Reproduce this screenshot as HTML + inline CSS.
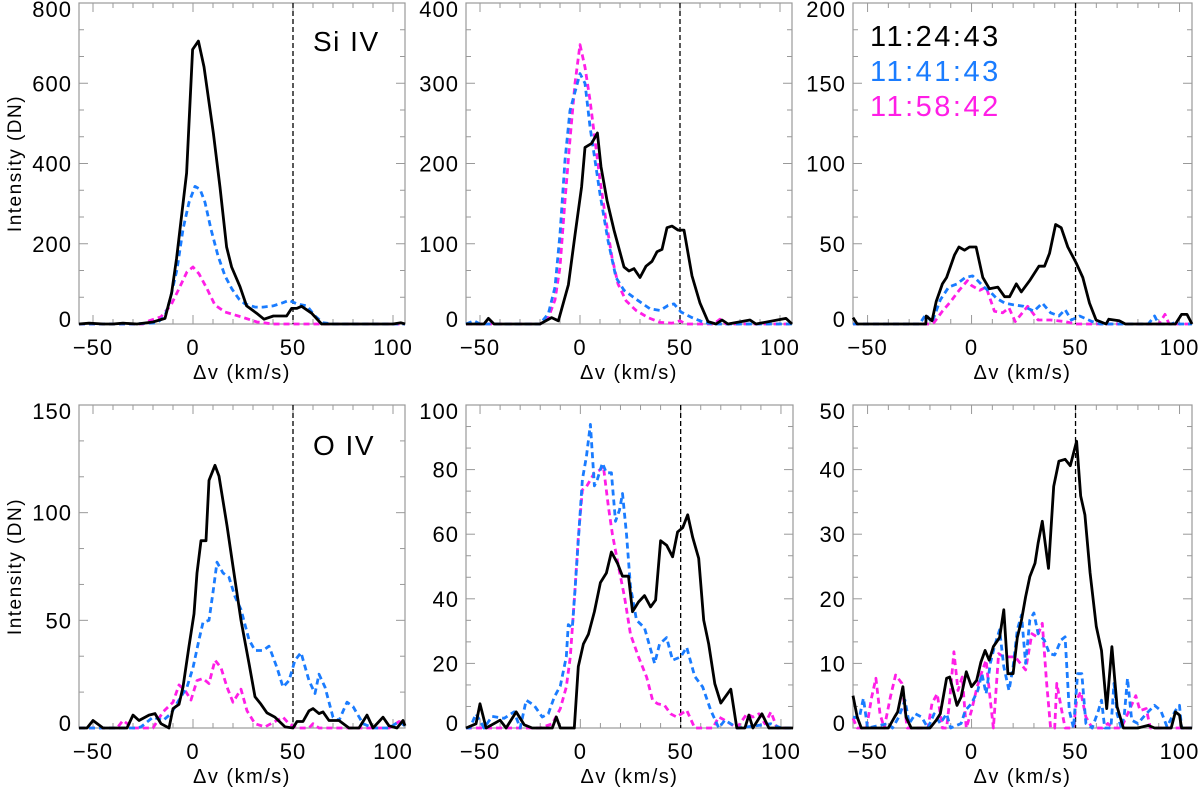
<!DOCTYPE html>
<html><head><meta charset="utf-8"><style>
html,body{margin:0;padding:0;background:#fff;}
svg{display:block;font-family:"Liberation Sans",sans-serif;}
</style></head><body>
<svg id="chart" width="1200" height="788" viewBox="0 0 1200 788" xmlns="http://www.w3.org/2000/svg"></svg>
<script>
// ---- data (velocity km/s, intensity DN) ----
const seriesNames = ["11:24:43","11:41:43","11:58:42"];
// Panel 1 Si IV (top-left)
const p1BlackV=[-57,-52,-45,-40,-35,-28,-20,-16.7,-14,-12.3,-10.7,-8.2,-3.2,-0.2,2.7,5.5,10.2,13.5,16.8,19.3,23.5,26.8,31.8,35.5,40.2,46.8,49.3,51.8,54.3,59.3,64.3,80,100,104,106];
const p1BlackI=[0,2,0,0,2,0,5,10,14,47,77,164,376,684,705,641,475,341,192,142,93,45,27,12,20,20,39,39,44,27,0,0,0,3,0];
const p1BlueV=[-57,-30,-18,-14,-11.5,-8,-5,-2,1,3.5,6,9,12.5,16,19.5,23,26,31,35,40,45,48,52,57,61,65,70,106];
const p1BlueI=[0,0,3,20,60,136,236,303,343,336,303,236,170,120,87,62,50,42,42,45,53,59,50,45,20,3,0,0];
const p1MagV=[-57,-25,-22,-16,-11,-7,-3,0,3,7,11,16,24,32,40,106];
const p1MagI=[0,0,8,18,47,88,130,142,125,88,47,30,18,5,0,0];
// Panel 2 (top-middle)
const p2BlackV=[-57,-48,-45.8,-43,-20,-14.2,-10.8,-5.8,-2.5,0.8,2.5,5.8,8.7,10.5,13.5,17,22,24.5,27,30,33,36,38.5,41,43.5,46,49,52,56,60,64,68,71,74,85,88,103,106];
const p2BlackI=[0,0,7,0,0,8,4,49,111,171,220,225,238,196,154,117,71,66,69,58,72,78,90,93,120,122,117,117,60,26,3,0,5,0,5,0,7,0];
const p2BlueV=[-57,-53,-50,-20,-15.8,-12.5,-10,-7.5,-5,0,2.5,5,7.5,10,14,18,22,28,35,40,44,47,50.5,56,62,66,106];
const p2BlueI=[0,4,0,0,13,46,112,204,266,312,300,246,204,162,104,58,42,31,19,17,23,25,15,8,2,0,0];
const p2MagV=[-57,-20,-16,-12.5,-10,-7.5,-5,-2.5,0,2.5,5,7.5,10,13,16,19,23,28,34,40,46,50,53,67,70,73,106];
const p2MagI=[0,0,7,30,71,154,230,300,348,320,279,229,179,129,83,50,29,17,8,2,1,4,0,0,6,0,0];
// Panel 3 (top-right)
const p3BlackV=[-57,-55,-22,-21.8,-19,-17,-14,-12,-8.2,-6.1,-3.4,-1,2.2,5.4,8.6,12.6,15.9,18.3,21.5,23.9,27.9,32.4,35.1,37.5,40.4,43.1,46.3,50.3,53.5,56.7,59.9,64.7,66,71,74,98,101,103.6,106];
const p3BlackI=[4,0,0,5,2,14,25,29,43,48,46,48,48,29,22,23,17,17,25,20,27,36,36,44,62,60,48,38,29,13,2.5,0,3,2,0,0,6,6,0];
const p3BlueV=[-57,-25,-22,-19,-15,-11,-7,-3,0.5,3,6,9,12,16,20,25,30,34,38,42,45,48,52,58,62,85,88,90,96,98,100,106];
const p3BlueI=[0,0,6,1,15,23,25,29,30,27,23,20,16,13,12,11,8,13,7,5,9,2.5,5,1.5,0,0,5,0,0,1,0,0];
const p3MagV=[-57,-20,-18,-14,-10,-6,-2,0,4,7,11,15,18,21,27,32,38,45,50,90,93,95,106];
const p3MagI=[0,0,1,8,14,21,27,24,21,23,8,7,10,1.5,11,2.5,2.5,1.5,0,0,6,0,0];
// Panel 4 O IV (bottom-left)
const p4BlackV=[-57,-53,-50,-45,-33,-30,-27,-22,-19,-16,-12,-10,-7,-5,-2,0.5,2,4,6.5,8,11,13,17,20,24,28,31,34,37,41,46,50,52,55,58,60,63,65,68,73,78,83,87,90,95,98,102,105,106];
const p4BlackI=[0,0,3.5,0,0,6,3.5,6,6.7,2,0,9,11,19,38,53,72,87,87,115,122,117,94,75,50,30,14.5,11,7,5,0.5,0,3,3,8,9,6.7,7.5,3.5,3.5,0,0,6,0,5,1,0,3.5,1];
const p4BlueV=[-57,-28,-26,-20,-15,-11,-7,-3,0,3,5,8,10,12,15,18,21,24,28,31,35,38,42,45,48,51,54,58,61,63,66,70,73,77,80,85,90,98,103,106];
const p4BlueI=[0,0,0.5,5,3.5,6.7,13,19,28,41,49,50,63,77,72,70,61,55,41,36,36,38,28,19,22,31.5,35,22,16,25,19,5,3.5,12,10,2,0,0,3,1];
const p4MagV=[-57,-38,-35,-30,-20,-15,-10,-7,-4,-1,2,5,8,11,14,17,20,24,27,31,36,41,45,48,52,58,60,63,98,100,103,106];
const p4MagI=[0,0,3.5,0,0,7.5,12,20,17.5,13,22,23,20.6,31.5,28,19,12,18,8,2,0.5,3,5,2,0,0,2,0,0,1,3,2];
// Panel 5 (bottom-middle)
const p5BlackV=[-57,-52,-50,-47,-40,-37,-32,-28,-24,-14,-12,-10,-3,-1,1.5,4,7,10,13,15.5,18.5,21,24,26,29,32,35,37.5,40,43,46,48.5,51,53.5,56,59,61.5,64,67,70,75,78,82,84,86,90.5,94,106];
const p5BlackI=[0,1.3,7.5,0,2.4,0,5,1,0,0,3.4,0,0,19,26,29,36,45,48,54.5,51,47,47,36,39,41,37.5,39.6,58,56.6,53,60.7,62,66,59,52.5,33.4,26,13.7,7.7,12,0,0,4,0,4.4,0,0];
const p5BlueV=[-57,-55,-52,-48,-44,-38,-33,-30,-27,-23,-19,-16,-13,-10,-7,-6,-4,-2.5,-1,1,3,5,7,8.5,11,13,15.5,17.5,19.5,21,23,25,28,32,37,39.5,43,46,50,53,57,61,65,69,72,75,78.5,95,100,106];
const p5BlueI=[0,0,4.4,0,3.6,3,5,0,8.6,7,3.4,4.4,9.6,13,22,32,31,44,58,77,84,94,75,77,82,79,79,64,67.5,72.6,60,43.7,33.4,31,20,26,28,21,22,25,16,12.7,5.5,0,2.4,1.3,0,1.3,0,0];
const p5MagV=[-57,-20,-14,-10,-7,-5,-3,-1,1,3,5,7,9.5,11.5,14,16,19,22,25,29,33,36,38.5,42,45,48,53,57,66,69,72,78,83,86,89,92,95,98,106];
const p5MagI=[0,0,1.3,6,12.7,22,39.6,59,73.7,74.7,76.8,79,79.8,81,68.5,60,50,40.6,29,22,15.8,8.6,7.5,7,4.4,3.4,5.5,0,0,3.4,2.4,0,4.4,3.4,4.4,1.3,5,0,0];
// Panel 6 (bottom-right)
const p6BlackV=[-57,-55,-53,-40,-37,-35.5,-33,-31.5,-29,-20,-17,-15,-12,-10.5,-7,-5,-2.5,0,2.5,4.5,6.5,8.5,10.5,13.5,15.5,17.5,20,22,24,26,28,30.5,32,34,37,39.5,42,45,47.5,50.5,52.5,54.5,57,60,62.5,65,67.5,70,73,80,85,88,96,98,100,101,106];
const p6BlackI=[5,1.7,0,0,1.7,2.5,6.4,1.7,0,0,1.2,2.2,7.7,7.9,3.5,4.8,8.7,6.4,7.4,10.2,12,10.5,12.6,14,18.3,8.4,8.4,14,16.7,20.3,23.4,25.5,28.6,32,24.7,37.4,41.3,41.6,40.6,44.4,35.9,33,24,15.7,12,3,12.6,3.3,0,0,0.4,0,0,2.5,2,0,0];
const p6BlueV=[-57,-54,-52,-50,-40,-38,-35,-32,-30,-27,-24,-21,-18,-15,-12,-10,-5,-3,0,3,5,7,9,11,13.5,15.5,18,20,22,24,26,28,30,32,35,37.5,40,43,45,47,49,51,53,55,58,61,62.5,64,67,68.5,70,72,73.5,75,77,80,84,88,91,94,98,100,101,106];
const p6BlueI=[1.7,1.5,4.6,0,0.7,0,1.7,4.3,0.7,2.2,1.7,0,2.2,0.7,2.2,0,0.7,2.7,3.8,5.8,8.4,5.3,10,12.6,15.2,9.5,5.8,9.5,15.2,17.5,10,16.7,17.8,14.6,13.6,11.5,11.3,13.6,14.1,2.7,0,8.4,8.4,0.7,0,2.7,4.3,0,0,6.9,2.2,0,2.2,7.7,1.2,0.7,2.2,3.5,2.7,0.2,2.7,3.5,0,0];
const p6MagV=[-57,-55,-50.5,-48,-46,-44,-42,-39,-36.5,-33.5,-31,-21,-19,-16.5,-14,-12,-10.5,-8.5,-6.5,-4.5,-2.5,0,2.5,5,7,9,10.5,13,15.5,18,21,23.5,26,29,31.5,34,36,38,40,41,43,45,49,50.5,52.5,55,58,63,65.5,68,72,79,81,84,86,90,106];
const p6MagI=[1.5,0,0,4.8,7.7,2.2,0,4.8,8.2,6.9,0,0,3.8,5.3,0,0,4.3,11.8,5.8,7.9,0,2.7,6.1,8.7,10.5,4.3,0,11.5,11,11,11,10,9,14.6,14.1,16.2,7.4,0,0,6.9,3.3,0,0,4.3,5.6,1.7,0,0,0.7,0,0,5,2.7,3,0,0,0];
const xTickValues=[-50,0,50,100];
const p1YTicks=[0,200,400,600,800];
const p2YTicks=[0,100,200,300,400];
const p3YTicks=[0,50,100,150,200];
const p4YTicks=[0,50,100,150];
const p5YTicks=[0,20,40,60,80,100];
const p6YTicks=[0,10,20,30,40,50];
const refVelocity=50;

// ---- layout ----
const XMIN=-57, XMAX=106;
const panels=[
 {id:'si-iv-1',L:79,R:405,T:3,B:324,ymax:800,ticks:p1YTicks,s:[[p1BlackV,p1BlackI],[p1BlueV,p1BlueI],[p1MagV,p1MagI]],yTitle:true,label:'Si  IV'},
 {id:'si-iv-2',L:466,R:792,T:3,B:324,ymax:400,ticks:p2YTicks,s:[[p2BlackV,p2BlackI],[p2BlueV,p2BlueI],[p2MagV,p2MagI]]},
 {id:'si-iv-3',L:853,R:1192,T:3,B:324,ymax:200,ticks:p3YTicks,s:[[p3BlackV,p3BlackI],[p3BlueV,p3BlueI],[p3MagV,p3MagI]],legend:true},
 {id:'o-iv-1',L:79,R:405,T:405,B:728,ymax:150,ticks:p4YTicks,s:[[p4BlackV,p4BlackI],[p4BlueV,p4BlueI],[p4MagV,p4MagI]],yTitle:true,label:'O  IV'},
 {id:'o-iv-2',L:466,R:793,T:405,B:728,ymax:100,ticks:p5YTicks,s:[[p5BlackV,p5BlackI],[p5BlueV,p5BlueI],[p5MagV,p5MagI]]},
 {id:'o-iv-3',L:853,R:1192,T:405,B:728,ymax:50,ticks:p6YTicks,s:[[p6BlackV,p6BlackI],[p6BlueV,p6BlueI],[p6MagV,p6MagI]]}
];
const colors=['#000000','#1a7cff','#ff1ee6'];
const NS='http://www.w3.org/2000/svg';
const svg=document.getElementById('chart');
function mk(tag,attrs,parent){const e=document.createElementNS(NS,tag);for(const k in attrs)e.setAttribute(k,attrs[k]);parent.appendChild(e);return e;}

panels.forEach(p=>{
  const g=mk('g',{},svg);
  
  
  const xs=v=>p.L+(v-XMIN)/(XMAX-XMIN)*(p.R-p.L);
  const ys=i=>p.B-i/p.ymax*(p.B-p.T);
  const fr=mk('rect',{x:p.L,y:p.T,width:p.R-p.L,height:p.B-p.T,fill:'none',stroke:'#999','stroke-width':1.2},g);
  
  
  for(let v=-50;v<=XMAX;v+=10){
    const x=xs(v), len=(v%50===0)?9:5;
    mk('line',{x1:x,x2:x,y1:p.B,y2:p.B-len,stroke:'#999','stroke-width':1},g);
    mk('line',{x1:x,x2:x,y1:p.T,y2:p.T+len,stroke:'#999','stroke-width':1},g);
  }
  xTickValues.forEach(v=>{
    const t=mk('text',{x:xs(v),y:p.B+31,'font-size':22,'letter-spacing':1,'text-anchor':'middle',fill:'#000'},g);
    t.textContent=(v<0?'\u2212'+Math.abs(v):String(v));
    
    
  });
  const step=p.ticks[1]-p.ticks[0];
  for(let k=0;k<=(p.ticks.length-1)*3;k++){
    const val=k*step/3, y=ys(val), len=(k%3===0)?9:5;
    mk('line',{x1:p.L,x2:p.L+len,y1:y,y2:y,stroke:'#999','stroke-width':1},g);
    mk('line',{x1:p.R,x2:p.R-len,y1:y,y2:y,stroke:'#999','stroke-width':1},g);
  }
  p.ticks.forEach((val,idx)=>{
    let y=ys(val)+8; if(idx===0) y-=5; if(idx===p.ticks.length-1) y+=6;
    const t=mk('text',{x:p.L-7,y:y,'font-size':22,'letter-spacing':1,'text-anchor':'end',fill:'#000'},g);
    t.textContent=String(val);
    
    
  });
  const xt=mk('text',{x:(p.L+p.R)/2,y:p.B+55,'font-size':20,'letter-spacing':1.5,'text-anchor':'middle',fill:'#000'},g);
  xt.textContent='\u0394v (km/s)';
  
  
  if(p.yTitle){
    const cy=(p.T+p.B)/2;
    const yt=mk('text',{x:0,y:0,'font-size':19,'letter-spacing':1.5,'text-anchor':'middle',fill:'#000',transform:`translate(21,${cy}) rotate(-90)`},g);
    yt.textContent='Intensity (DN)';
    
    
  }
  const rl=mk('line',{x1:xs(refVelocity),x2:xs(refVelocity),y1:p.T,y2:p.B,stroke:'#000','stroke-width':1.3,'stroke-dasharray':'5,3'},g);
  
  
  [2,1,0].forEach(si=>{
    const [V,I]=p.s[si];
    const d=V.map((v,k)=>(k?'L':'M')+xs(v).toFixed(1)+','+ys(I[k]).toFixed(1)).join(' ');
    const attrs={d:d,fill:'none',stroke:colors[si],'stroke-width':2.8,'stroke-linejoin':'round'};
    if(si>0) attrs['stroke-dasharray']='6,4';
    const path=mk('path',attrs,g);
    
    
  });
  if(p.label){
    const lb=mk('text',{x:p.R-92,y:p.T+(p.T<100?48:50),'font-size':28,'letter-spacing':1.5,fill:'#000'},g);
    lb.textContent=p.label;
    
    
  }
  if(p.legend){
    seriesNames.forEach((n,k)=>{
      const t=mk('text',{x:p.L+17,y:p.T+43+k*35,'font-size':29,'letter-spacing':2.5,fill:colors[k]},g);
      t.textContent=n;
      
      
    });
  }
});
</script>
</body></html>
